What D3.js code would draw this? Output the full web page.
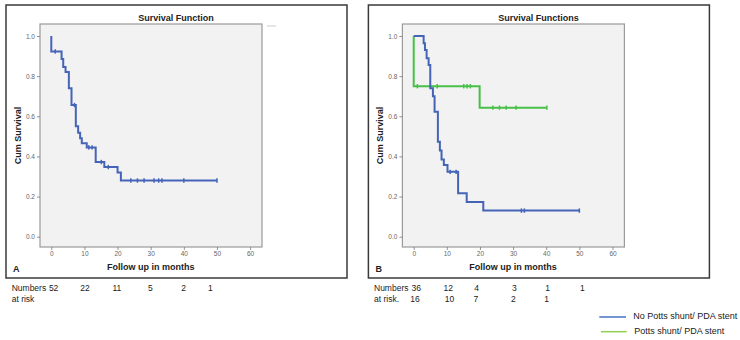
<!DOCTYPE html>
<html><head><meta charset="utf-8">
<script src="https://cdn.jsdelivr.net/npm/d3@7/dist/d3.min.js"></script>
<style>
html,body{margin:0;padding:0;background:#fff;}
svg{display:block;}
</style></head>
<body>
<svg id="chart" width="740" height="340"></svg>
<script>
// ---------- data ----------
const timeTicks = [0, 10, 20, 30, 40, 50, 60];
const survTicks = [0, 0.2, 0.4, 0.6, 0.8, 1.0];

// Panel A: overall survival
const aTimes = [0, 0, 3.1, 3.6, 4.3, 5.3, 6.1, 7.4, 8.1, 8.7, 9.2, 10.7, 13.4, 16.0, 20.0, 21.0, 50];
const aSurv  = [1.0, 0.923, 0.885, 0.846, 0.821, 0.740, 0.656, 0.550, 0.518, 0.490, 0.465, 0.445, 0.372, 0.347, 0.320, 0.280, 0.280];
const aCensorTimes = [1.2, 7.0, 11.3, 12.3, 15.1, 17.2, 24, 26, 28, 31, 32.4, 33.4, 40, 50];

// Panel B: No Potts shunt / PDA stent
const bTimes = [0, 3.0, 3.4, 3.9, 4.5, 5.0, 5.8, 6.3, 7.3, 7.9, 8.4, 9.1, 10.2, 13.4, 16.0, 21.0, 50];
const bSurv  = [1.0, 0.964, 0.93, 0.889, 0.855, 0.74, 0.70, 0.623, 0.473, 0.43, 0.385, 0.357, 0.323, 0.216, 0.173, 0.13, 0.13];
const bCensorTimes = [11.0, 12.8, 32.5, 33.4, 50];

// Panel B: Potts shunt / PDA stent
const gTimes = [0, 0, 19.9, 40.2];
const gSurv  = [1.0, 0.75, 0.643, 0.643];
const gCensorTimes = [1.1, 7.1, 15.1, 16.1, 17.1, 23.9, 25.9, 27.9, 30.9, 40.2];

// Numbers at risk
const aRisk = [52, 22, 11, 5, 2, 1];
const aRiskPos = [0.7, 10.2, 19.8, 29.9, 39.9, 48.0];
const bRisk1 = [36, 12, 4, 3, 1, 1];
const bRisk1Pos = [0.75, 10.4, 19.0, 30.4, 40.4, 50.9];
const bRisk2 = [16, 10, 7, 2, 1];
const bRisk2Pos = [0.4, 10.8, 18.8, 30.1, 40.1];

const legendLabels = ["No Potts shunt/ PDA stent", "Potts shunt/ PDA stent"];

// ---------- style ----------
const BLUE = "#4564b8", GREEN = "#48c048";
const LEG_BLUE = "#4472c4", LEG_GREEN = "#92d050";
const FONT = "'Liberation Sans', Arial, sans-serif";

const svg = d3.select("#chart");

function toPoints(ts, ss) { return ts.map((t, i) => [t, ss[i]]); }
function survAt(ts, ss, t) {
  let s = ss[0];
  for (let i = 0; i < ts.length; i++) if (ts[i] <= t) s = ss[i];
  return s;
}

function drawPanel(dx, title, letter, series) {
  const g = svg.append("g").attr("transform", `translate(${dx},0)`);
  // outer frame
  g.append("rect").attr("x", 6).attr("y", 5).attr("width", 341).attr("height", 273)
    .attr("fill", "none").attr("stroke", "#3a3a3a").attr("stroke-width", 1.5);

  const x = d3.scaleLinear().domain([0, 60]).range([51.3, 250.1]);
  const y = d3.scaleLinear().domain([0, 1]).range([236.7, 36]);

  // plot area
  g.append("rect").attr("x", 40).attr("y", 24).attr("width", 222).attr("height", 223)
    .attr("fill", "#f2f2f2").attr("stroke", "#9a9a9a").attr("stroke-width", 1.2);

  // axes
  const yAxis = d3.axisLeft(y).tickValues(survTicks).tickFormat(d3.format(".1f")).tickSize(3).tickPadding(2);
  const ya = g.append("g").attr("transform", "translate(40,0)").call(yAxis);
  ya.select(".domain").remove();
  const xAxis = d3.axisBottom(x).tickValues(timeTicks).tickFormat(d3.format("d")).tickSize(3).tickPadding(1);
  const xa = g.append("g").attr("transform", "translate(0,247)").call(xAxis);
  xa.select(".domain").remove();
  [ya, xa].forEach(a => {
    a.selectAll("text").attr("font-family", FONT).attr("font-size", 6.5).attr("fill", "#666");
    a.selectAll("line").attr("stroke", "#777").attr("stroke-width", 0.8);
  });

  // title and labels
  g.append("text").attr("x", 176).attr("y", 21).attr("text-anchor", "middle")
    .attr("font-family", FONT).attr("font-weight", "bold").attr("font-size", 9).attr("fill", "#222").text(title);
  g.append("text").attr("transform", "translate(21,135.5) rotate(-90)").attr("text-anchor", "middle")
    .attr("font-family", FONT).attr("font-weight", "bold").attr("font-size", 9).attr("fill", "#222").text("Cum Survival");
  g.append("text").attr("x", 150.7).attr("y", 270).attr("text-anchor", "middle")
    .attr("font-family", FONT).attr("font-weight", "bold").attr("font-size", 9).attr("fill", "#222").text("Follow up in months");
  g.append("text").attr("x", 13).attr("y", 271.5)
    .attr("font-family", FONT).attr("font-weight", "bold").attr("font-size", 9).attr("fill", "#222").text(letter);

  const line = d3.line().x(d => x(d[0])).y(d => y(d[1])).curve(d3.curveStepAfter);
  series.forEach(s => {
    g.append("path").attr("d", line(toPoints(s.t, s.s))).attr("fill", "none")
      .attr("stroke", s.color).attr("stroke-width", 2);
    g.selectAll(null).data(s.c).enter().append("line")
      .attr("x1", d => x(d)).attr("x2", d => x(d))
      .attr("y1", d => y(survAt(s.t, s.s, d)) - 2.2).attr("y2", d => y(survAt(s.t, s.s, d)) + 2.2)
      .attr("stroke", s.color).attr("stroke-width", 1.5);
  });
  return {g, x};
}

const A = drawPanel(0, "Survival Function", "A", [{t: aTimes, s: aSurv, c: aCensorTimes, color: BLUE}]);
// faint remnant legend mark at top right of panel A
A.g.append("line").attr("x1", 267).attr("x2", 276).attr("y1", 26).attr("y2", 26)
  .attr("stroke", "#d4d4d4").attr("stroke-width", 1.2);

const B = drawPanel(362.4, "Survival Functions", "B", [
  {t: gTimes, s: gSurv, c: gCensorTimes, color: GREEN},
  {t: bTimes, s: bSurv, c: bCensorTimes, color: BLUE}
]);

// numbers at risk
function riskRow(panel, labels, pos, yy) {
  panel.g.selectAll(null).data(labels).enter().append("text")
    .attr("x", (d, i) => panel.x(pos[i])).attr("y", yy).attr("text-anchor", "middle")
    .attr("font-family", FONT).attr("font-size", 8.5).attr("fill", "#222").text(d => d);
}
function riskLabel(panel, x0, l1, l2) {
  panel.g.append("text").attr("x", x0).attr("y", 290.8).attr("font-family", FONT).attr("font-size", 8.5).attr("fill", "#222").text(l1);
  panel.g.append("text").attr("x", x0).attr("y", 301.5).attr("font-family", FONT).attr("font-size", 8.5).attr("fill", "#222").text(l2);
}
riskLabel(A, 11.7, "Numbers", "at risk");
riskRow(A, aRisk, aRiskPos, 290.8);
riskLabel(B, 11.6, "Numbers", "at risk.");
riskRow(B, bRisk1, bRisk1Pos, 290.8);
riskRow(B, bRisk2, bRisk2Pos, 301.5);

// legend
const leg = svg.append("g");
const legColors = [LEG_BLUE, LEG_GREEN];
const legY = [317, 331.7];
const legX = [[599.3, 626], [601, 626.7]];
const legTX = [633.3, 634.3];
legendLabels.forEach((lab, i) => {
  leg.append("line").attr("x1", legX[i][0]).attr("x2", legX[i][1]).attr("y1", legY[i]).attr("y2", legY[i])
    .attr("stroke", legColors[i]).attr("stroke-width", 1.5);
  leg.append("text").attr("x", legTX[i]).attr("y", legY[i] + 2).attr("font-family", FONT)
    .attr("font-size", 9).attr("fill", "#222").text(lab);
});
</script>
</body></html>
